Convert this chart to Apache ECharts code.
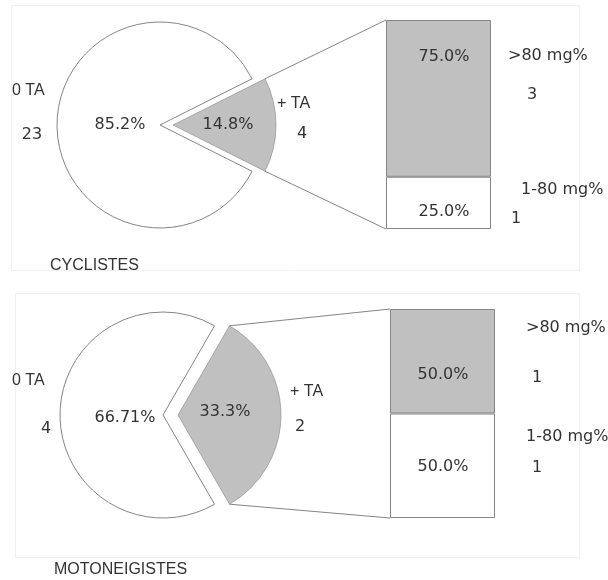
<!DOCTYPE html>
<html>
<head>
<meta charset="utf-8">
<script src="https://cdn.jsdelivr.net/npm/echarts@6/dist/echarts.min.js"></script>
<style>
html,body{margin:0;padding:0;background:#fff;}
#c{width:608px;height:580px;}
</style>
</head>
<body>
<div id="c"></div>
<script>
// ---------- data ----------
const pieGroups = ['0 TA', '+ TA'];
const barGroups = ['1-80 mg%', '>80 mg%'];
const panelTitles = ['CYCLISTES', 'MOTONEIGISTES'];

const cyclistesPie = [23, 4];
const cyclistesPieLabels = ['85.2%', '14.8%'];
const cyclistesBar = [1, 3];
const cyclistesBarLabels = ['25.0%', '75.0%'];

const motoPie = [4, 2];
const motoPieLabels = ['66.71%', '33.3%'];
const motoBar = [1, 1];
const motoBarLabels = ['50.0%', '50.0%'];

// ---------- layout / style ----------
const GREY = '#c0c0c0';
const EDGE = '#858585';
const TXT = '#333';
const FONT = '16px "Liberation Sans", Arial, sans-serif';
const FONT_NUM = '16px "DejaVu Sans", sans-serif';

const panels = [
  {
    pie: cyclistesPie, pieLabels: cyclistesPieLabels, bar: cyclistesBar, barLabels: cyclistesBarLabels,
    title: panelTitles[0],
    cx: 160, cy: 125, r: 103, explode: 13,
    grid: {left: 386, top: 20, width: 105, height: 209},
    frame: [11, 5, 568, 265],
    txt: {
      g0: [12, 91], g0v: [32, 135], p0: [120, 125], p1: [228, 125],
      g1: [277, 104], g1v: [302, 134],
      b1: [444, 57], b1n: [508, 56], b1v: [532, 95],
      b0: [444, 212], b0n: [521, 190], b0v: [516, 219],
      title: [50, 266]
    }
  },
  {
    pie: motoPie, pieLabels: motoPieLabels, bar: motoBar, barLabels: motoBarLabels,
    title: panelTitles[1],
    cx: 163, cy: 415, r: 103, explode: 15,
    grid: {left: 390, top: 309, width: 105, height: 209},
    frame: [15, 293, 564, 264],
    txt: {
      g0: [12, 381], g0v: [46, 429], p0: [125, 418], p1: [225, 412],
      g1: [290, 392], g1v: [300, 427],
      b1: [443, 375], b1n: [526, 328], b1v: [537, 378],
      b0: [443, 467], b0n: [526, 437], b0v: [537, 468],
      title: [54, 570]
    }
  }
];

const chart = echarts.init(document.getElementById('c'), null, {renderer: 'canvas'});

const series = [];
const grids = [];
const xAxes = [];
const yAxes = [];
const graphics = [];

function txt(x, y, s, align, font) {
  return {type: 'text', x: x, y: y, silent: true, z: 100,
    style: {text: s, font: font || FONT, fill: TXT, align: align || 'center', verticalAlign: 'middle'}};
}

panels.forEach((p, i) => {
  const total = p.pie[0] + p.pie[1];
  const half = 180 * p.pie[1] / total; // half angle of the '+ TA' slice
  const hidden = {color: 'rgba(0,0,0,0)', borderColor: 'rgba(0,0,0,0)', borderWidth: 0};
  // frame
  graphics.push({type: 'rect', silent: true, z: 0,
    shape: {x: p.frame[0] + 0.5, y: p.frame[1] + 0.5, width: p.frame[2], height: p.frame[3]},
    style: {fill: 'none', stroke: '#f0f0f0', lineWidth: 1}});
  // white slice (0 TA)
  series.push({
    type: 'pie', silent: true, animation: false, clockwise: true,
    center: [p.cx, p.cy], radius: p.r, startAngle: half,
    label: {show: false}, labelLine: {show: false},
    data: [
      {name: pieGroups[1], value: p.pie[1], itemStyle: hidden},
      {name: pieGroups[0], value: p.pie[0], itemStyle: {color: '#fff', borderColor: EDGE, borderWidth: 1}}
    ]
  });
  // grey slice (+ TA), exploded to the right
  series.push({
    type: 'pie', silent: true, animation: false, clockwise: true,
    center: [p.cx + p.explode, p.cy], radius: p.r, startAngle: half,
    label: {show: false}, labelLine: {show: false},
    data: [
      {name: pieGroups[1], value: p.pie[1], itemStyle: {color: GREY, borderColor: EDGE, borderWidth: 0.6}},
      {name: pieGroups[0], value: p.pie[0], itemStyle: hidden}
    ]
  });
  // bar
  grids.push({left: p.grid.left, top: p.grid.top, width: p.grid.width, height: p.grid.height, containLabel: false});
  xAxes.push({type: 'category', gridIndex: i, data: ['x'], show: false});
  yAxes.push({type: 'value', gridIndex: i, min: 0, max: p.bar[0] + p.bar[1], show: false, splitLine: {show: false}});
  series.push({
    type: 'bar', xAxisIndex: i, yAxisIndex: i, stack: 's' + i, silent: true, animation: false,
    barWidth: '100%', data: [p.bar[0]], name: barGroups[0],
    itemStyle: {color: '#fff', borderColor: EDGE, borderWidth: 1}
  });
  series.push({
    type: 'bar', xAxisIndex: i, yAxisIndex: i, stack: 's' + i, silent: true, animation: false,
    barWidth: '100%', data: [p.bar[1]], name: barGroups[1],
    itemStyle: {color: GREY, borderColor: EDGE, borderWidth: 1}
  });
  // connectors from grey slice corners to bar corners
  const rad = half * Math.PI / 180;
  const gx = p.cx + p.explode;
  const topC = [gx + p.r * Math.cos(rad), p.cy - p.r * Math.sin(rad)];
  const botC = [gx + p.r * Math.cos(rad), p.cy + p.r * Math.sin(rad)];
  graphics.push({type: 'line', silent: true, z: 50,
    shape: {x1: topC[0], y1: topC[1], x2: p.grid.left, y2: p.grid.top},
    style: {stroke: EDGE, lineWidth: 1}});
  graphics.push({type: 'line', silent: true, z: 50,
    shape: {x1: botC[0], y1: botC[1], x2: p.grid.left, y2: p.grid.top + p.grid.height},
    style: {stroke: EDGE, lineWidth: 1}});
  // texts
  const t = p.txt;
  graphics.push(txt(t.g0[0], t.g0[1], pieGroups[0], 'left'));
  graphics.push(txt(t.g0v[0], t.g0v[1], String(p.pie[0]), 'center', FONT_NUM));
  graphics.push(txt(t.p0[0], t.p0[1], p.pieLabels[0], 'center', FONT_NUM));
  graphics.push(txt(t.p1[0], t.p1[1], p.pieLabels[1], 'center', FONT_NUM));
  graphics.push(txt(t.g1[0], t.g1[1], pieGroups[1], 'left'));
  graphics.push(txt(t.g1v[0], t.g1v[1], String(p.pie[1]), 'center', FONT_NUM));
  graphics.push(txt(t.b1[0], t.b1[1], p.barLabels[1], 'center', FONT_NUM));
  graphics.push(txt(t.b1n[0], t.b1n[1], barGroups[1], 'left', FONT_NUM));
  graphics.push(txt(t.b1v[0], t.b1v[1], String(p.bar[1]), 'center', FONT_NUM));
  graphics.push(txt(t.b0[0], t.b0[1], p.barLabels[0], 'center', FONT_NUM));
  graphics.push(txt(t.b0n[0], t.b0n[1], barGroups[0], 'left', FONT_NUM));
  graphics.push(txt(t.b0v[0], t.b0v[1], String(p.bar[0]), 'center', FONT_NUM));
  graphics.push(txt(t.title[0], t.title[1], p.title, 'left'));
});

chart.setOption({
  animation: false,
  backgroundColor: '#fff',
  grid: grids,
  xAxis: xAxes,
  yAxis: yAxes,
  series: series,
  graphic: graphics
});
</script>
</body>
</html>
